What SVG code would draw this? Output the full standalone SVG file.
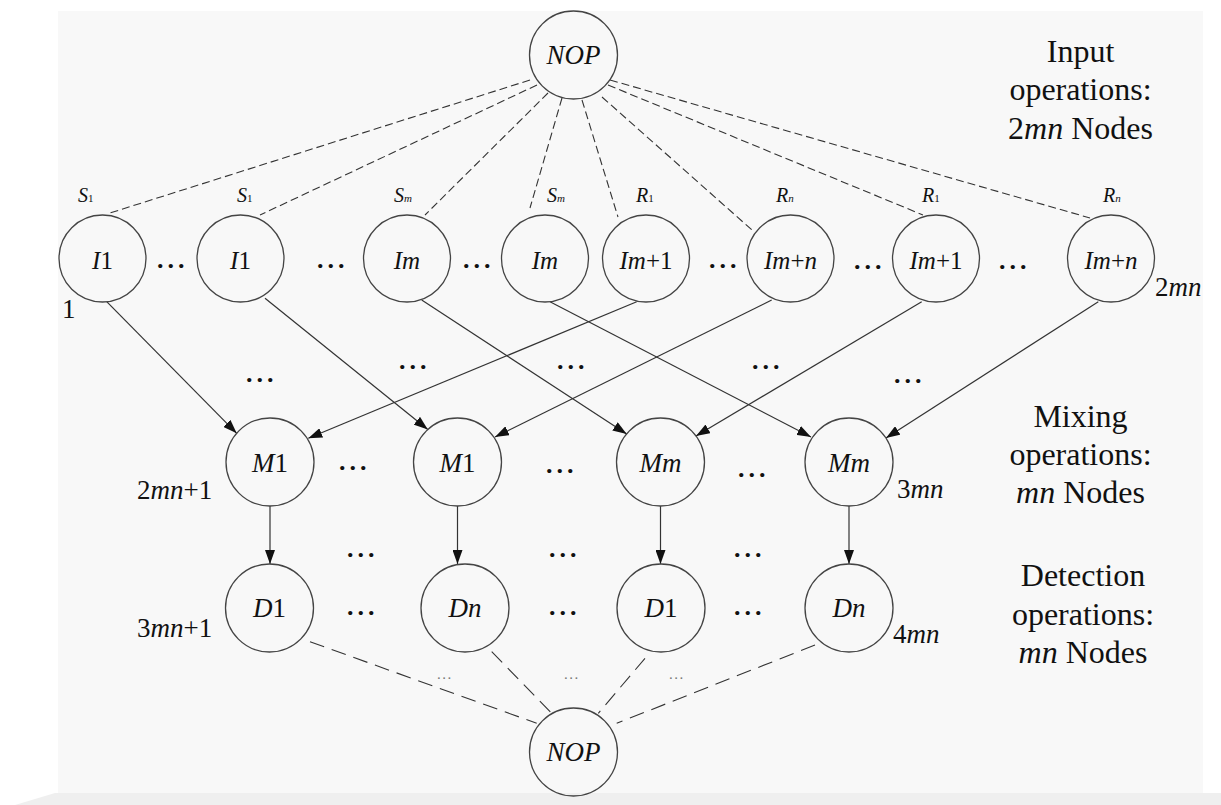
<svg xmlns="http://www.w3.org/2000/svg" width="1221" height="805" viewBox="0 0 1221 805" font-family="Liberation Serif, Times New Roman, serif">
  <style>
    .node { fill: none; stroke: #444; stroke-width: 1.3; }
    .lbl { font-size: 27px; fill: #111; text-anchor: middle; }
    .lbl-i { font-size: 25px; }
    .it { font-style: italic; }
    .src { font-size: 20px; font-style: italic; fill: #111; }
    .sub { font-size: 11px; }
    .idx { font-size: 27px; fill: #111; }
    .side { font-size: 32px; fill: #111; text-anchor: middle; }
    .dots { font-size: 26px; font-weight: bold; fill: #111; letter-spacing: 4px; }
    .dots-s { font-size: 15px; fill: #777; letter-spacing: 1.5px; }
    .in { fill: none; stroke: #333; stroke-width: 1.1; stroke-dasharray: 8 4; }
    .out { fill: none; stroke: #333; stroke-width: 1.1; stroke-dasharray: 15 8; }
    .flow { fill: none; stroke: #333; stroke-width: 1.2; marker-end: url(#arrow); }
  </style>
  <defs>
    <marker id="arrow" markerUnits="userSpaceOnUse" markerWidth="14" markerHeight="10" refX="14" refY="5" orient="auto">
      <path d="M0,0 L14,5 L0,10 Z" fill="#111"/>
    </marker>
  </defs>

  <!-- page -->
  <rect x="0" y="0" width="1221" height="805" fill="#ffffff"/>
  <rect x="58" y="11" width="1145" height="782" fill="#f8f8f8"/>
  <polygon points="15,805 55,793 1221,793 1221,805" fill="#efefef"/>

  <!-- connectors -->
  <g id="connectors">
    <!-- NOP to input operations -->
    <line class="in" x1="530" y1="80" x2="110" y2="213"/>
    <line class="in" x1="537" y1="85" x2="260" y2="215"/>
    <line class="in" x1="548" y1="93" x2="425" y2="215"/>
    <line class="in" x1="562" y1="98" x2="530" y2="208"/>
    <line class="in" x1="582" y1="100" x2="618" y2="217"/>
    <line class="in" x1="602" y1="97" x2="752" y2="230"/>
    <line class="in" x1="608" y1="85" x2="923" y2="215"/>
    <line class="in" x1="610" y1="80" x2="1090" y2="218"/>

    <!-- input to mixing -->
    <line class="flow" x1="106.7" y1="301.7" x2="236.7" y2="433.3"/>
    <line class="flow" x1="265" y1="298.3" x2="427.8" y2="429.5"/>
    <line class="flow" x1="421.7" y1="300" x2="626.7" y2="434"/>
    <line class="flow" x1="550" y1="301.7" x2="811" y2="437"/>
    <line class="flow" x1="636.7" y1="301.7" x2="308.3" y2="438.3"/>
    <line class="flow" x1="771.7" y1="300" x2="495" y2="437"/>
    <line class="flow" x1="921.7" y1="301.7" x2="696" y2="436"/>
    <line class="flow" x1="1098.3" y1="301.7" x2="886" y2="438"/>

    <!-- mixing to detection -->
    <line class="flow" x1="270" y1="506" x2="270" y2="564"/>
    <line class="flow" x1="457.5" y1="506" x2="457.5" y2="564"/>
    <line class="flow" x1="660.5" y1="506" x2="660.5" y2="564"/>
    <line class="flow" x1="849" y1="506" x2="849" y2="564"/>

    <!-- detection to NOP -->
    <line class="out" x1="310" y1="641.7" x2="536.7" y2="723.3"/>
    <line class="out" x1="491.7" y1="651.7" x2="551.7" y2="713.3"/>
    <line class="out" x1="645" y1="658.3" x2="598.3" y2="713.3"/>
    <line class="out" x1="815" y1="645" x2="616.7" y2="723.3"/>
  </g>

  <!-- start node -->
  <g id="nop-top">
    <circle class="node" cx="573.5" cy="55" r="44"/>
    <text class="lbl it" x="573.5" y="64">NOP</text>
  </g>

  <!-- input operations -->
  <g id="i1-a">
    <circle class="node" cx="102.5" cy="258.5" r="43.5"/>
    <text class="lbl lbl-i" x="102.5" y="269"><tspan class="it">I</tspan>1</text>
    <text class="src" x="78" y="202">S<tspan class="sub" font-style="normal">1</tspan></text>
  </g>
  <g id="i1-b">
    <circle class="node" cx="240.5" cy="258.5" r="43.5"/>
    <text class="lbl lbl-i" x="240.5" y="269"><tspan class="it">I</tspan>1</text>
    <text class="src" x="237" y="202">S<tspan class="sub" font-style="normal">1</tspan></text>
  </g>
  <g id="im-a">
    <circle class="node" cx="407" cy="258.5" r="43.5"/>
    <text class="lbl lbl-i it" x="407" y="269">Im</text>
    <text class="src" x="394" y="202">S<tspan class="sub">m</tspan></text>
  </g>
  <g id="im-b">
    <circle class="node" cx="545" cy="258.5" r="43.5"/>
    <text class="lbl lbl-i it" x="545" y="269">Im</text>
    <text class="src" x="547" y="202">S<tspan class="sub">m</tspan></text>
  </g>
  <g id="im1-a">
    <circle class="node" cx="646" cy="258.5" r="43.5"/>
    <text class="lbl lbl-i" x="646" y="269"><tspan class="it">Im</tspan>+1</text>
    <text class="src" x="636" y="202">R<tspan class="sub" font-style="normal">1</tspan></text>
  </g>
  <g id="imn-a">
    <circle class="node" cx="790.5" cy="258.5" r="43.5"/>
    <text class="lbl lbl-i" x="790.5" y="269"><tspan class="it">Im</tspan>+<tspan class="it">n</tspan></text>
    <text class="src" x="776" y="202">R<tspan class="sub">n</tspan></text>
  </g>
  <g id="im1-b">
    <circle class="node" cx="936" cy="258.5" r="43.5"/>
    <text class="lbl lbl-i" x="936" y="269"><tspan class="it">Im</tspan>+1</text>
    <text class="src" x="922" y="202">R<tspan class="sub" font-style="normal">1</tspan></text>
  </g>
  <g id="imn-b">
    <circle class="node" cx="1111" cy="258.5" r="43.5"/>
    <text class="lbl lbl-i" x="1111" y="269"><tspan class="it">Im</tspan>+<tspan class="it">n</tspan></text>
    <text class="src" x="1103" y="202">R<tspan class="sub">n</tspan></text>
  </g>

  <!-- mixing operations -->
  <g id="m1-a">
    <circle class="node" cx="270" cy="462" r="44"/>
    <text class="lbl" x="270" y="471.5"><tspan class="it">M</tspan>1</text>
  </g>
  <g id="m1-b">
    <circle class="node" cx="457.5" cy="462" r="44"/>
    <text class="lbl" x="457.5" y="471.5"><tspan class="it">M</tspan>1</text>
  </g>
  <g id="mm-a">
    <circle class="node" cx="660.5" cy="462" r="44"/>
    <text class="lbl it" x="660.5" y="471.5">Mm</text>
  </g>
  <g id="mm-b">
    <circle class="node" cx="849" cy="462" r="44"/>
    <text class="lbl it" x="849" y="471.5">Mm</text>
  </g>

  <!-- detection operations -->
  <g id="d1-a">
    <circle class="node" cx="269.5" cy="608" r="44"/>
    <text class="lbl" x="269.5" y="616.5"><tspan class="it">D</tspan>1</text>
  </g>
  <g id="dn-a">
    <circle class="node" cx="465" cy="608" r="44"/>
    <text class="lbl it" x="465" y="616.5">Dn</text>
  </g>
  <g id="d1-b">
    <circle class="node" cx="661" cy="608" r="44"/>
    <text class="lbl" x="661" y="616.5"><tspan class="it">D</tspan>1</text>
  </g>
  <g id="dn-b">
    <circle class="node" cx="849" cy="608" r="44"/>
    <text class="lbl it" x="849" y="616.5">Dn</text>
  </g>

  <!-- end node -->
  <g id="nop-bottom">
    <circle class="node" cx="573.5" cy="752" r="44"/>
    <text class="lbl it" x="573.5" y="761">NOP</text>
  </g>

  <!-- node numbering -->
  <g id="numbering">
    <text class="idx" x="62" y="318">1</text>
    <text class="idx" x="1155" y="296">2<tspan class="it">mn</tspan></text>
    <text class="idx" x="137" y="499">2<tspan class="it">mn</tspan>+1</text>
    <text class="idx" x="897" y="498">3<tspan class="it">mn</tspan></text>
    <text class="idx" x="137" y="637">3<tspan class="it">mn</tspan>+1</text>
    <text class="idx" x="893" y="643">4<tspan class="it">mn</tspan></text>
  </g>

  <!-- layer captions -->
  <g id="captions">
    <text class="side" x="1080.5" y="62">Input</text>
    <text class="side" x="1080.5" y="100">operations:</text>
    <text class="side" x="1080.5" y="139">2<tspan class="it">mn</tspan> Nodes</text>
    <text class="side" x="1080.5" y="427">Mixing</text>
    <text class="side" x="1080.5" y="465">operations:</text>
    <text class="side" x="1080.5" y="503"><tspan class="it">mn</tspan> Nodes</text>
    <text class="side" x="1083" y="586">Detection</text>
    <text class="side" x="1083" y="625">operations:</text>
    <text class="side" x="1083" y="663"><tspan class="it">mn</tspan> Nodes</text>
  </g>

  <!-- ellipses -->
  <g id="ellipses">
    <text class="dots" x="157" y="268">...</text>
    <text class="dots" x="317" y="268">...</text>
    <text class="dots" x="463" y="268">...</text>
    <text class="dots" x="709" y="268">...</text>
    <text class="dots" x="854" y="269">...</text>
    <text class="dots" x="999" y="269">...</text>

    <text class="dots" x="246" y="382">...</text>
    <text class="dots" x="399" y="369">...</text>
    <text class="dots" x="557" y="369">...</text>
    <text class="dots" x="752" y="369">...</text>
    <text class="dots" x="894" y="383">...</text>

    <text class="dots" x="339" y="470">...</text>
    <text class="dots" x="546" y="473">...</text>
    <text class="dots" x="738" y="477">...</text>

    <text class="dots" x="347" y="557">...</text>
    <text class="dots" x="549" y="557">...</text>
    <text class="dots" x="734" y="557">...</text>

    <text class="dots" x="347" y="615">...</text>
    <text class="dots" x="549" y="615">...</text>
    <text class="dots" x="734" y="615">...</text>

    <text class="dots-s" x="437" y="679">...</text>
    <text class="dots-s" x="564" y="679">...</text>
    <text class="dots-s" x="669" y="679">...</text>
  </g>
</svg>
